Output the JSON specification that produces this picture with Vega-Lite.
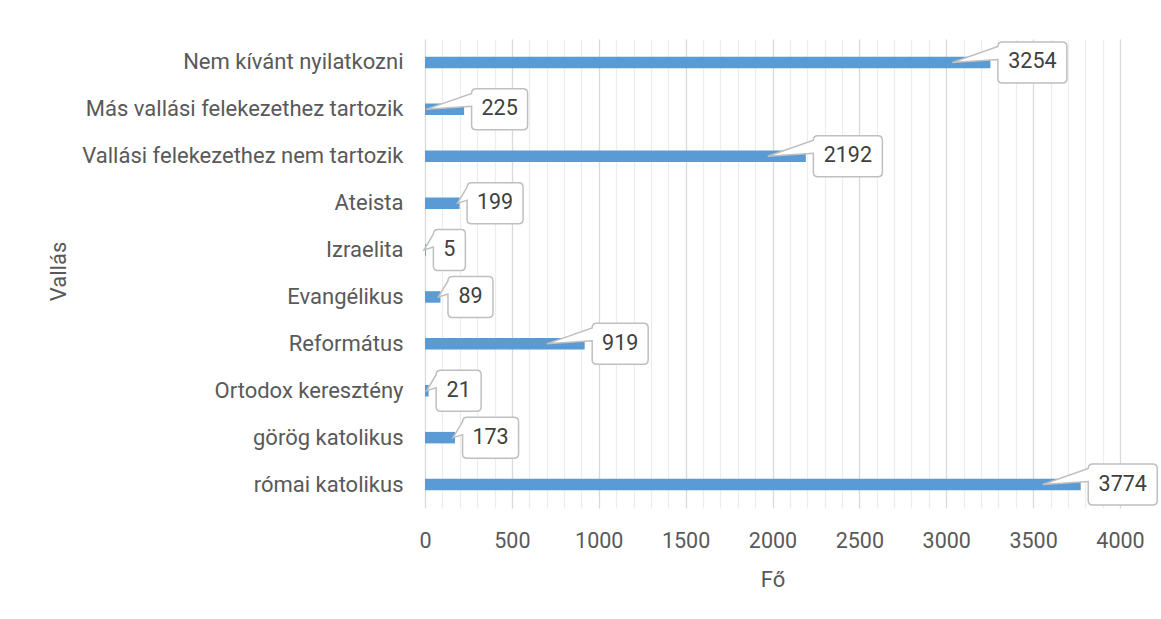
{
  "$schema": "https://vega.github.io/schema/vega-lite/v6.json",
  "width": 695,
  "height": 469,
  "autosize": {"type": "none"},
  "padding": {"left": 425, "top": 39, "right": 41, "bottom": 111},
  "background": "white",
  "config": {"view": {"stroke": null}, "font": "Roboto"},
  "data": {
    "values": [
      {"vallas": "Nem kívánt nyilatkozni", "fo": 3254},
      {"vallas": "Más vallási felekezethez tartozik", "fo": 225},
      {"vallas": "Vallási felekezethez nem tartozik", "fo": 2192},
      {"vallas": "Ateista", "fo": 199},
      {"vallas": "Izraelita", "fo": 5},
      {"vallas": "Evangélikus", "fo": 89},
      {"vallas": "Református", "fo": 919},
      {"vallas": "Ortodox keresztény", "fo": 21},
      {"vallas": "görög katolikus", "fo": 173},
      {"vallas": "római katolikus", "fo": 3774}
    ]
  },
  "encoding": {
    "y": {
      "field": "vallas",
      "type": "nominal",
      "sort": null,
      "scale": {"paddingInner": 0, "paddingOuter": 0},
      "axis": {
        "title": "Vallás",
        "titleFontSize": 22,
        "titleFontWeight": "normal",
        "titleColor": "#595959",
        "titleAngle": 270,
        "titleX": -367,
        "titleY": 232,
        "titleAlign": "center",
        "titleBaseline": "middle",
        "domain": false,
        "ticks": false,
        "grid": false,
        "labelFontSize": 22,
        "labelColor": "#595959",
        "labelPadding": 22,
        "labelLimit": 400
      }
    },
    "x": {
      "field": "fo",
      "type": "quantitative",
      "scale": {"domain": [0, 4000], "nice": false},
      "axis": {
        "values": [0, 100, 200, 300, 400, 500, 600, 700, 800, 900, 1000, 1100, 1200, 1300, 1400, 1500, 1600, 1700, 1800, 1900, 2000, 2100, 2200, 2300, 2400, 2500, 2600, 2700, 2800, 2900, 3000, 3100, 3200, 3300, 3400, 3500, 3600, 3700, 3800, 3900, 4000],
        "format": "d",
        "grid": true,
        "gridColor": {"condition": {"test": "datum.value % 500 === 0", "value": "#D9D9D9"}, "value": "#EDEDED"},
        "gridWidth": 1.3,
        "domain": false,
        "ticks": false,
        "labelExpr": "datum.value % 500 === 0 ? datum.label : ''",
        "labelOverlap": false,
        "labelFlush": false,
        "labelFontSize": 21.5,
        "labelColor": "#595959",
        "labelPadding": 22,
        "title": "Fő",
        "titleFontSize": 22,
        "titleFontWeight": "normal",
        "titleColor": "#595959",
        "titlePadding": 18
      }
    }
  },
  "layer": [
    {"mark": {"type": "bar", "height": 11.5, "color": "#5B9BD5"}},
    {
      "mark": {
        "type": "point",
        "size": 4,
        "filled": true,
        "fill": "white",
        "stroke": "#BFBFBF",
        "strokeWidth": 1.5,
        "opacity": 1,
        "shape": {"expr": "'M' + (datum.fo*0.17375>=38?-38:-2) + ',0 L7.5,-16 Q7.5,-20.5 12,-20.5 L' + ((datum.fo<10?39.5:datum.fo<100?52.5:datum.fo<1000?63.5:76.5)-4.5) + ',-20.5 Q' + (datum.fo<10?39.5:datum.fo<100?52.5:datum.fo<1000?63.5:76.5) + ',-20.5 ' + (datum.fo<10?39.5:datum.fo<100?52.5:datum.fo<1000?63.5:76.5) + ',-16 L' + (datum.fo<10?39.5:datum.fo<100?52.5:datum.fo<1000?63.5:76.5) + ',16 Q' + (datum.fo<10?39.5:datum.fo<100?52.5:datum.fo<1000?63.5:76.5) + ',20.5 ' + ((datum.fo<10?39.5:datum.fo<100?52.5:datum.fo<1000?63.5:76.5)-4.5) + ',20.5 L12,20.5 Q7.5,20.5 7.5,16 L7.5,-3 Z'"}
      }
    },
    {
      "mark": {
        "type": "text",
        "align": "center",
        "baseline": "middle",
        "fontSize": 21.5,
        "color": "#404040",
        "dx": {"expr": "7.5 + (datum.fo<10?32:datum.fo<100?45:datum.fo<1000?56:69)/2"}
      },
      "encoding": {"text": {"field": "fo", "type": "quantitative", "format": "d"}}
    }
  ]
}
